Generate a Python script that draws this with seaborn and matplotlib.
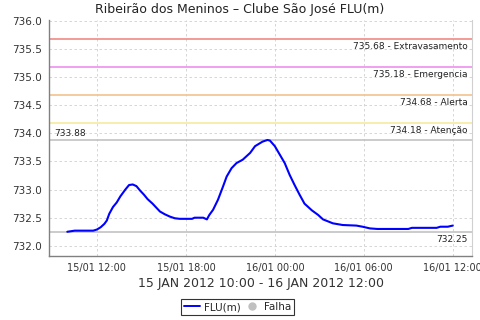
import matplotlib
matplotlib.use("Agg")
import matplotlib.pyplot as plt
import matplotlib.dates as mdates
from matplotlib.lines import Line2D
import pandas as pd
import seaborn as sns

title = "Ribeirão dos Meninos – Clube São José FLU(m)"
xlabel = "15 JAN 2012 10:00 - 16 JAN 2012 12:00"
series_name = "FLU(m)"

times = [
    "2012-01-15 10:00", "2012-01-15 10:30", "2012-01-15 11:45", "2012-01-15 12:00",
    "2012-01-15 12:15", "2012-01-15 12:30", "2012-01-15 12:40", "2012-01-15 12:50",
    "2012-01-15 13:05", "2012-01-15 13:20", "2012-01-15 13:35", "2012-01-15 13:55",
    "2012-01-15 14:10", "2012-01-15 14:25", "2012-01-15 14:40", "2012-01-15 14:55",
    "2012-01-15 15:10", "2012-01-15 15:25", "2012-01-15 15:45", "2012-01-15 16:00",
    "2012-01-15 16:15", "2012-01-15 16:35", "2012-01-15 16:55", "2012-01-15 17:15",
    "2012-01-15 17:35", "2012-01-15 18:00", "2012-01-15 18:25", "2012-01-15 18:35",
    "2012-01-15 19:10", "2012-01-15 19:25", "2012-01-15 19:35", "2012-01-15 19:50",
    "2012-01-15 20:10", "2012-01-15 20:30", "2012-01-15 20:45", "2012-01-15 21:05",
    "2012-01-15 21:25", "2012-01-15 21:50", "2012-01-15 22:20", "2012-01-15 22:40",
    "2012-01-15 23:10", "2012-01-15 23:30", "2012-01-15 23:40", "2012-01-16 00:00",
    "2012-01-16 00:20", "2012-01-16 00:40", "2012-01-16 01:00", "2012-01-16 01:20",
    "2012-01-16 01:40", "2012-01-16 02:00", "2012-01-16 02:30", "2012-01-16 02:55",
    "2012-01-16 03:15", "2012-01-16 03:55", "2012-01-16 04:35", "2012-01-16 05:30",
    "2012-01-16 05:55", "2012-01-16 06:25", "2012-01-16 06:55", "2012-01-16 09:00",
    "2012-01-16 09:15", "2012-01-16 10:55", "2012-01-16 11:10", "2012-01-16 11:40",
    "2012-01-16 12:00",
]
levels = [
    732.25, 732.27, 732.27, 732.29,
    732.33, 732.39, 732.45, 732.57,
    732.69, 732.77, 732.88, 733.00,
    733.08, 733.09, 733.06, 732.98,
    732.91, 732.83, 732.75, 732.68,
    732.61, 732.56, 732.52, 732.49,
    732.48, 732.48, 732.48, 732.50,
    732.50, 732.47, 732.55, 732.64,
    732.82, 733.05, 733.23, 733.38,
    733.47, 733.53, 733.65, 733.77,
    733.85, 733.88, 733.87, 733.77,
    733.62, 733.47, 733.26, 733.08,
    732.91, 732.75, 732.63, 732.55,
    732.47, 732.40, 732.37, 732.36,
    732.34, 732.31, 732.30, 732.30,
    732.32, 732.32, 732.34, 732.34,
    732.36,
]

threshold_values = [735.68, 735.18, 734.68, 734.18]
threshold_names = ["Extravasamento", "Emergencia", "Alerta", "Atenção"]
threshold_colors = ["#f08a84", "#ee90ee", "#f4c28e", "#f6ea9c"]
max_value = 733.88
min_value = 732.25

y_ticks = [732.0, 732.5, 733.0, 733.5, 734.0, 734.5, 735.0, 735.5, 736.0]
x_ticks = ["2012-01-15 12:00", "2012-01-15 18:00", "2012-01-16 00:00",
           "2012-01-16 06:00", "2012-01-16 12:00"]

df = pd.DataFrame({"time": pd.to_datetime(times), "level": levels})

sns.set_style("white")
plt.rcParams["font.family"] = ["DejaVu Sans"]

fig = plt.figure(figsize=(4.8, 3.2), dpi=100)
ax = fig.add_axes([49 / 480, 1 - 256 / 320, 423 / 480, 236 / 320])

ax.grid(True, color="#d0d0d0", linestyle=(0, (3, 3)), linewidth=0.6)
ax.set_axisbelow(True)

lab_color = "#222222"
for v, n, c in zip(threshold_values, threshold_names, threshold_colors):
    ax.axhline(v, color=c, linewidth=1.2, zorder=1)
    ax.text(0.99, v - 0.055, f"{v:.2f} - {n}", transform=ax.get_yaxis_transform(),
            ha="right", va="top", fontsize=6.5, color=lab_color)
ax.axhline(max_value, color="#bdbdbd", linewidth=1.1, zorder=1)
ax.text(0.012, max_value + 0.04, f"{max_value:.2f}", transform=ax.get_yaxis_transform(),
        ha="left", va="bottom", fontsize=6.5, color=lab_color)
ax.axhline(min_value, color="#bdbdbd", linewidth=1.1, zorder=1)
ax.text(0.99, min_value - 0.055, f"{min_value:.2f}", transform=ax.get_yaxis_transform(),
        ha="right", va="top", fontsize=6.5, color=lab_color)

sns.lineplot(data=df, x="time", y="level", ax=ax, color="#0000ff", linewidth=1.5,
             legend=False, zorder=3)

ax.set_ylim(731.82, 736.01)
ax.set_xlim(pd.Timestamp("2012-01-15 08:46"), pd.Timestamp("2012-01-16 13:18"))
ax.set_yticks(y_ticks)
ax.set_yticklabels([f"{t:.1f}" for t in y_ticks])
ax.set_xticks(pd.to_datetime(x_ticks))
ax.xaxis.set_major_formatter(mdates.DateFormatter("%d/%m %H:%M"))
ax.tick_params(axis="both", which="major", length=3, width=0.8, color="#808080",
               labelcolor="#333333", direction="out", pad=2)
ax.tick_params(axis="y", labelsize=7.5)
ax.tick_params(axis="x", labelsize=7)
ax.set_xlabel(xlabel, fontsize=9, color="#333333", labelpad=3)
ax.set_ylabel("")
fig.text(0.5, 1 - 9 / 320, title, fontsize=9, color="#222222", ha="center", va="center")

for s in ["left", "bottom"]:
    ax.spines[s].set_color("#808080")
    ax.spines[s].set_linewidth(1.0)
ax.spines["top"].set_visible(False)
ax.spines["right"].set_color("#d0d0d0")
ax.spines["right"].set_linewidth(0.8)

handles = [Line2D([], [], color="#0000ff", linewidth=1.4),
           Line2D([], [], marker="o", linestyle="", color="#c0c0c0", markersize=5)]
leg = fig.legend(handles, [series_name, "Falha"], loc="center", bbox_to_anchor=(237.5 / 480, 1 - 307 / 320),
                 ncol=2, fontsize=7.5, frameon=True, fancybox=False, handlelength=1.5,
                 handletextpad=0.4, columnspacing=0.3, borderpad=0.3, borderaxespad=0)
leg.get_frame().set_edgecolor("black")
leg.get_frame().set_linewidth(0.8)

fig.savefig("out.png", dpi=100, facecolor="white")
